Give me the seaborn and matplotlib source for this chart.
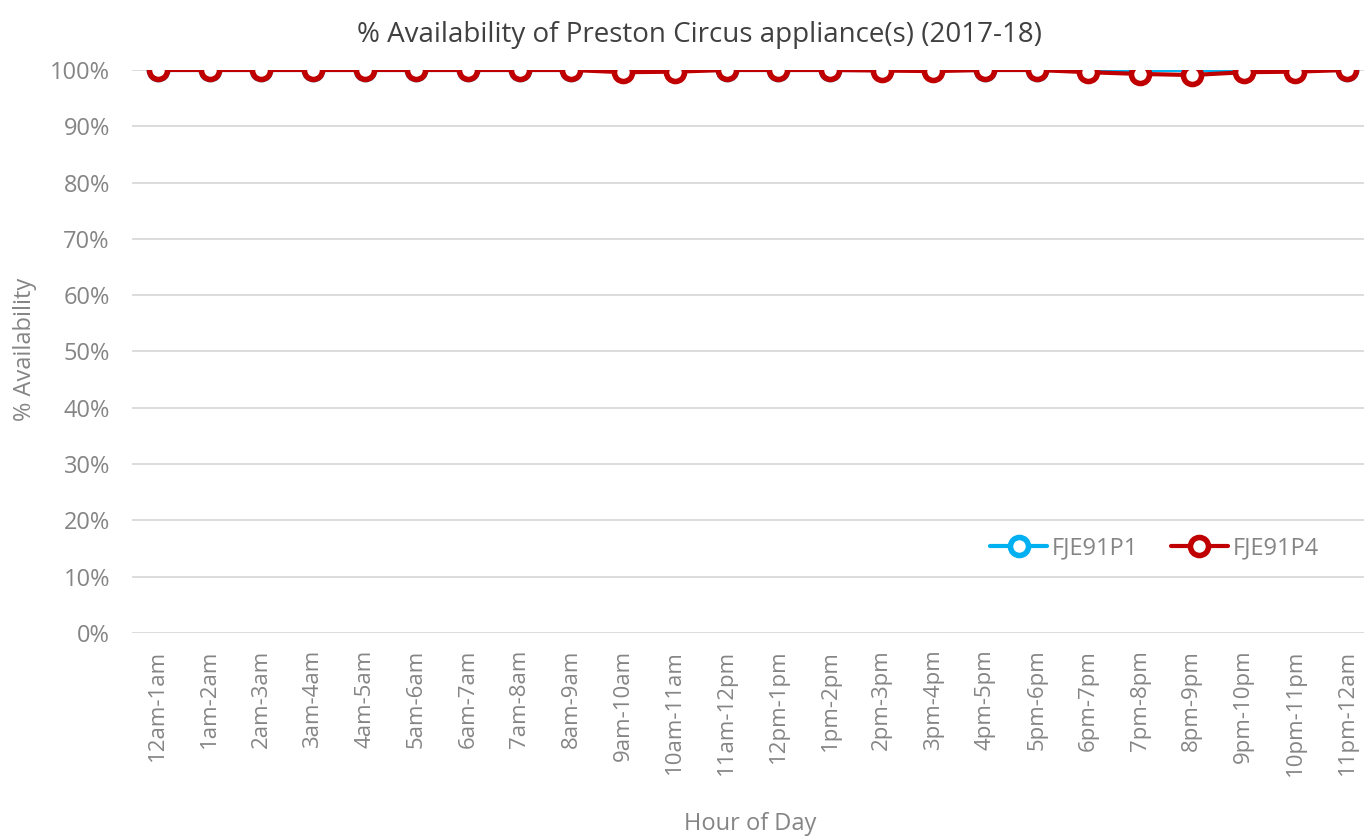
import pandas as pd
import matplotlib.pyplot as plt
import seaborn as sns

hours = ["12am-1am", "1am-2am", "2am-3am", "3am-4am", "4am-5am", "5am-6am",
         "6am-7am", "7am-8am", "8am-9am", "9am-10am", "10am-11am", "11am-12pm",
         "12pm-1pm", "1pm-2pm", "2pm-3pm", "3pm-4pm", "4pm-5pm", "5pm-6pm",
         "6pm-7pm", "7pm-8pm", "8pm-9pm", "9pm-10pm", "10pm-11pm", "11pm-12am"]
fje91p1 = [100, 100, 100, 100, 100, 100, 100, 100, 100, 100, 100, 100,
           100, 100, 100, 100, 100, 100, 100, 100, 100, 100, 100, 100]
fje91p4 = [100, 100, 100, 100, 100, 100, 100, 100, 100, 99.6, 99.7, 100,
           100, 100, 99.9, 99.8, 100, 100, 99.6, 99.3, 99.1, 99.6, 99.7, 100]

df = pd.DataFrame({"hour": hours * 2,
                   "avail": fje91p1 + fje91p4,
                   "series": ["FJE91P1"] * 24 + ["FJE91P4"] * 24})
df["x"] = list(range(24)) * 2

sns.set_style("white")
plt.rcParams["font.family"] = ["Open Sans", "DejaVu Sans"]

fig = plt.figure(figsize=(13.64, 8.39), dpi=100)
ax = fig.add_axes([0.0968, 0.2455, 0.9032, 0.6711])

sns.lineplot(data=df, x="x", y="avail", hue="series", ax=ax,
             palette={"FJE91P1": "#00b0f0", "FJE91P4": "#c00000"},
             marker="o", markersize=13, markerfacecolor="white",
             markeredgewidth=4, linewidth=3, dashes=False)
for line in ax.get_lines():
    line.set_markeredgecolor(line.get_color())

ax.set_ylim(0, 100)
ax.set_xlim(-0.5, 23.33)
ax.set_yticks(range(0, 101, 10))
ax.set_yticklabels([f"{v}%" for v in range(0, 101, 10)])
ax.set_xticks(range(24))
ax.set_xticklabels(hours, rotation=90)
ax.tick_params(axis="y", labelsize=17, colors="#858585", length=0, pad=16)
ax.tick_params(axis="x", labelsize=16, colors="#858585", length=0, pad=12)
ax.grid(axis="y", color="#d9d9d9", linewidth=1.3)
for s in ax.spines.values():
    s.set_visible(False)

ax.set_xlabel("Hour of Day", fontsize=17, color="#858585")
ax.xaxis.set_label_coords(0.502, -0.318)
ax.set_ylabel("% Availability", fontsize=17, color="#858585")
ax.yaxis.set_label_coords(-0.077, 0.503)
ax.set_title("% Availability of Preston Circus appliance(s) (2017-18)",
             fontsize=20, color="#404040", pad=20, x=0.461)

leg = ax.legend(loc="center", bbox_to_anchor=(0.83, 0.15), ncol=2,
                frameon=False, fontsize=17, handlelength=2.4,
                columnspacing=1.4, handletextpad=0.2)
for t in leg.get_texts():
    t.set_color("#858585")

fig.savefig("out.png", dpi=100)
